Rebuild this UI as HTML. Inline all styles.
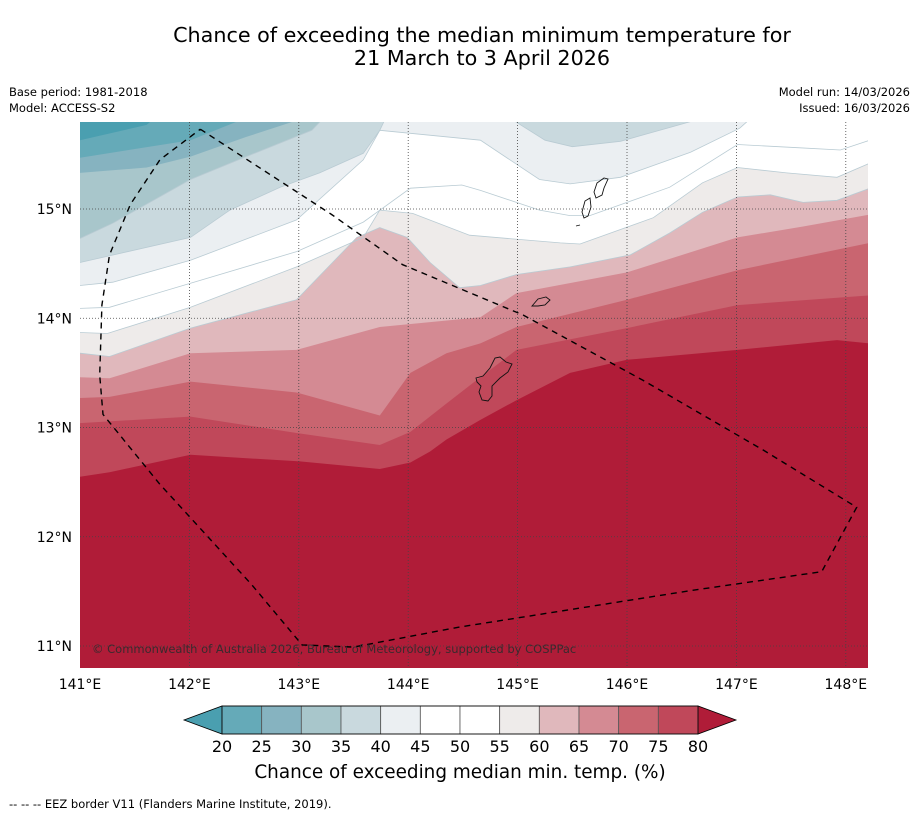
<!DOCTYPE html>
<html><head><meta charset="utf-8"><style>
body{margin:0;background:#fff;font-family:"Liberation Sans",sans-serif;}
svg text{font-family:"DejaVu Sans","Liberation Sans",sans-serif;}
</style></head><body>
<svg id="chart" width="919" height="816" xmlns="http://www.w3.org/2000/svg">
<rect width="919" height="816" fill="#fff"/>
<text x="482" y="42" text-anchor="middle" font-size="20.7" fill="#000">Chance of exceeding the median minimum temperature for</text>
<text x="482" y="65" text-anchor="middle" font-size="20.7" fill="#000">21 March to 3 April 2026</text>
<text x="9" y="96" font-size="11.5">Base period: 1981-2018</text>
<text x="9" y="112" font-size="11.5">Model: ACCESS-S2</text>
<text x="910" y="96" font-size="11.5" text-anchor="end">Model run: 14/03/2026</text>
<text x="910" y="112" font-size="11.5" text-anchor="end">Issued: 16/03/2026</text>
<defs><clipPath id="mapclip"><rect x="80" y="122" width="788" height="546"/></clipPath></defs>
<g id="map" clip-path="url(#mapclip)"></g>
<g id="axes"></g>
<g id="cbar"></g>
<text x="460" y="778" text-anchor="middle" font-size="18.4">Chance of exceeding median min. temp. (%)</text>
<text x="9" y="808" font-size="11.5">--  --  -- EEZ border V11 (Flanders Marine Institute, 2019).</text>
</svg>
<script>
const levels=[20,25,30,35,40,45,50,55,60,65,70,75,80];
const bandColors=["#4a9fb0","#65aab8","#86b3c0","#a8c6cb","#c9d9de","#ebeff2","#ffffff","#ffffff","#eeebea","#e0b8bc","#d48a93","#c96570","#c0485a","#b01c38"];
const lonTicks=[141,142,143,144,145,146,147,148];
const latTicks=[11,12,13,14,15];
// contour lines [lon,lat]
const c20=[[141,15.63],[141.61,15.77],[141.70,15.85],[141.75,15.91]];
const c25=[[141,15.47],[142.01,15.63],[142.46,15.81],[142.6,15.91]];
const c30=[[141,15.33],[141.61,15.38],[142.01,15.48],[142.52,15.66],[142.98,15.81],[143.1,15.91]];
const c35=[[141,14.73],[141.30,14.87],[142.01,15.27],[142.52,15.48],[143.12,15.72],[143.3,15.91]];
const c40=[[141,14.51],[142.01,14.74],[142.37,14.99],[142.83,15.20],[143.19,15.33],[143.59,15.51],[143.74,15.72],[143.83,15.91]];
const c45=[[141,14.30],[141.30,14.33],[142.01,14.53],[142.98,14.90],[143.59,15.45],[143.74,15.72],[144.66,15.63],[145.20,15.27],[145.48,15.23],[145.94,15.29],[146.58,15.52],[147.03,15.74],[147.22,15.91]];
const c50=[[141,14.09],[141.27,14.10],[142.01,14.32],[142.98,14.61],[143.59,14.88],[144.02,15.19],[144.49,15.22],[144.66,15.17],[145.20,14.99],[145.48,14.94],[145.66,14.94],[146.39,15.20],[147.01,15.59],[147.58,15.56],[147.95,15.54],[148.22,15.63]];
const c55=[[141,13.87],[141.25,13.86],[142.01,14.10],[142.98,14.47],[143.59,14.74],[143.74,14.99],[144.04,14.96],[144.56,14.76],[145.39,14.69],[145.57,14.68],[146.24,14.92],[146.69,15.24],[147.01,15.38],[147.46,15.33],[147.92,15.29],[148.22,15.42]];
const c60=[[141,13.68],[141.27,13.65],[142.01,13.91],[142.98,14.17],[143.53,14.74],[143.74,14.83],[143.99,14.74],[144.20,14.51],[144.47,14.28],[144.66,14.30],[144.99,14.40],[145.48,14.47],[146.03,14.58],[146.39,14.78],[146.69,14.97],[147.01,15.11],[147.31,15.13],[147.61,15.06],[147.92,15.08],[148.22,15.19]];
const c65=[[141,13.46],[141.27,13.45],[142.01,13.68],[142.98,13.71],[143.74,13.92],[144.66,14.01],[144.99,14.23],[146.00,14.42],[147.01,14.74],[147.61,14.84],[148.22,14.95]];
const c70=[[141,13.27],[141.27,13.28],[142.01,13.42],[142.98,13.32],[143.74,13.11],[144.02,13.50],[144.35,13.68],[144.66,13.77],[144.99,13.92],[146.00,14.17],[147.01,14.44],[148.22,14.69]];
const c75=[[141,13.04],[142.01,13.10],[142.98,12.95],[143.74,12.84],[144.02,12.96],[144.35,13.22],[144.66,13.46],[144.99,13.71],[146.00,13.91],[147.01,14.12],[148.22,14.21]];
const c80=[[141,12.55],[141.27,12.59],[142.01,12.75],[143.01,12.69],[143.74,12.62],[144.02,12.68],[144.20,12.78],[144.35,12.89],[144.66,13.07],[144.99,13.25],[145.48,13.50],[146.00,13.62],[147.01,13.71],[147.92,13.80],[148.22,13.77]];
const blob40=[[144.98,15.91],[144.98,15.80],[145.25,15.63],[145.50,15.57],[145.94,15.62],[146.30,15.72],[146.58,15.80],[146.65,15.91]];
const contours=[c20,c25,c30,c35,c40,c45,c50,c55,c60,c65,c70,c75,c80];
const eez=[[142.1,15.73],[143.3,14.95],[143.95,14.49],[145.05,14.03],[146.15,13.43],[147.25,12.79],[148.1,12.27],[147.78,11.68],[146.6,11.51],[144.45,11.17],[143.5,10.99],[143.03,11.01],[142.57,11.56],[141.73,12.48],[141.21,13.12],[141.18,13.48],[141.2,14.12],[141.27,14.58],[141.46,15.04],[141.73,15.45],[142.1,15.73]];

const NS='http://www.w3.org/2000/svg';
const X=lon=>80+(lon-141)*109.4;
const Y=lat=>209-(lat-15)*109.25;
function mk(tag,at,parent){const e=document.createElementNS(NS,tag);for(const k in at)e.setAttribute(k,at[k]);parent.appendChild(e);return e;}
const map=document.getElementById('map');
const bg=mk('rect',{x:0,y:0,width:1000,height:800,fill:bandColors[0]},map);


function ptsStr(c){return c.map(p=>X(p[0]).toFixed(1)+','+Y(p[1]).toFixed(1)).join(' ');}
contours.forEach((c,i)=>{
  const first=c[0],last=c[c.length-1];
  const poly='0,'+Y(first[1]).toFixed(1)+' '+ptsStr(c)+' 1000,'+Y(last[1]).toFixed(1)+' 1000,800 0,800';
  const p=mk('polygon',{points:poly,fill:bandColors[i+1]},map);
  
  
  if(i===5){
    const b=mk('polygon',{points:ptsStr(blob40),fill:bandColors[4]},map);
    
    
  }
});
contours.forEach((c,i)=>{
  if(levels[i]>=35&&levels[i]<=60){
    const l=mk('polyline',{points:ptsStr(c),fill:'none',stroke:'#b9cbd3','stroke-width':0.8},map);
    
    
  }
});
const bl=mk('polyline',{points:ptsStr(blob40),fill:'none',stroke:'#b9cbd3','stroke-width':0.8},map);


// grid
lonTicks.slice(1).forEach(v=>{const g=mk('line',{x1:X(v),x2:X(v),y1:122,y2:668,stroke:'#444','stroke-width':0.8,'stroke-dasharray':'1,2'},map);

});
latTicks.forEach(v=>{const g=mk('line',{x1:80,x2:868,y1:Y(v),y2:Y(v),stroke:'#444','stroke-width':0.8,'stroke-dasharray':'1,2'},map);

});
// islands
const isl=[
 ['guam','M476,378 L483,376 L490,368 L495,358 L500,357 L506,362 L512,364 L508,372 L500,378 L492,386 L492,396 L488,401 L482,400 L479,392 L481,386 L477,382 Z'],
 ['rota','M532,306 L538,299 L546,297 L550,300 L545,305 L538,306 Z'],
 ['tinian','M582,212 L585,201 L590,198 L591,207 L588,216 L584,218 Z'],
 ['saipan','M594,192 L597,183 L604,178 L608,179 L604,188 L602,195 L596,198 Z'],
 ['aguijan','M576,226 L580,225']];
isl.forEach(s=>{const p=mk('path',{d:s[1],fill:'none',stroke:'#111','stroke-width':0.9},map);

});
const ez=mk('polyline',{points:ptsStr(eez),fill:'none',stroke:'#000','stroke-width':1.4,'stroke-dasharray':'6,5'},map);


const cp=mk('text',{x:92,y:653,'font-size':11.5,fill:'#3a2a2e'},map);
cp.textContent='© Commonwealth of Australia 2026, Bureau of Meteorology, supported by COSPPac';


// axis labels
const axes=document.getElementById('axes');
lonTicks.forEach(v=>{const t=mk('text',{x:X(v),y:689,'text-anchor':'middle','font-size':14},axes);t.textContent=v+'°E';

});
latTicks.forEach(v=>{const t=mk('text',{x:72,y:Y(v)+5,'text-anchor':'end','font-size':14},axes);t.textContent=v+'°N';

});
// colorbar
const cb=document.getElementById('cbar');
const cx0=222,cx1=698,cy0=706,cy1=734,bw=(cx1-cx0)/(levels.length-1);
const la=mk('polygon',{points:`184,720 ${cx0},${cy0} ${cx0},${cy1}`,fill:bandColors[0],stroke:'#000','stroke-width':0.8},cb);


const ra=mk('polygon',{points:`736,720 ${cx1},${cy0} ${cx1},${cy1}`,fill:bandColors[13],stroke:'#000','stroke-width':0.8},cb);


for(let i=0;i<levels.length-1;i++){
  const r=mk('rect',{x:cx0+i*bw,y:cy0,width:bw,height:cy1-cy0,fill:bandColors[i+1],stroke:'#555','stroke-width':0.8},cb);
  
  
}
mk('rect',{x:cx0,y:cy0,width:cx1-cx0,height:cy1-cy0,fill:'none',stroke:'#000','stroke-width':0.8},cb);
levels.forEach((v,i)=>{const t=mk('text',{x:cx0+i*bw,y:752,'text-anchor':'middle','font-size':16},cb);t.textContent=v;

});
</script>
</body></html>
